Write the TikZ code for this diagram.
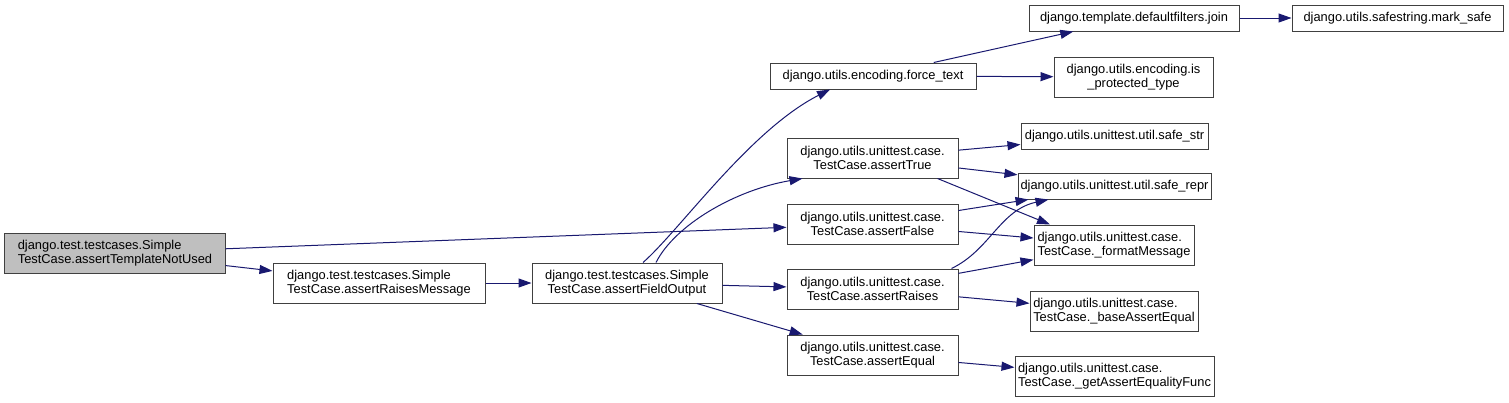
\documentclass[tikz,border=0pt]{standalone}
\usepackage{fontspec}
\setmainfont{Liberation Sans}
\usetikzlibrary{arrows.meta,calc}
\definecolor{edgeblue}{HTML}{191970}
\definecolor{boxline}{HTML}{404040}
\definecolor{graybox}{HTML}{BFBFBF}
\tikzset{
  fnbox/.style={draw=boxline, line width=1bp, fill=white, inner sep=0pt, minimum height=40bp,
    font=\fontsize{12.9}{14}\selectfont, align=center},
  onebox/.style={fnbox, minimum height=26bp},
  leftbox/.style={fnbox, align=left},
  callarrow/.style={draw=edgeblue, line width=1bp, -{Triangle[length=13bp,width=9bp]}}
}
\begin{document}
\begin{tikzpicture}[x=1bp,y=-1bp]
\useasboundingbox[fill=white] (0,0) rectangle (1509,402);
% nodes
\node[leftbox, fill=graybox, minimum width=220bp] (A) at (115,253) {django.test.testcases.Simple\\TestCase.assertTemplateNotUsed};
\node[leftbox, minimum width=212bp] (B) at (379,283) {django.test.testcases.Simple\\TestCase.assertRaisesMessage};
\node[fnbox, minimum width=190bp] (C) at (627,283) {django.test.testcases.Simple\\TestCase.assertFieldOutput};
\node[fnbox, minimum width=171bp] (D) at (872.5,289) {django.utils.unittest.case.\\TestCase.assertRaises};
\node[fnbox, minimum width=171bp] (E) at (872.5,355) {django.utils.unittest.case.\\TestCase.assertEqual};
\node[fnbox, minimum width=171bp] (F) at (872.5,224) {django.utils.unittest.case.\\TestCase.assertFalse};
\node[fnbox, minimum width=171bp] (G) at (872.5,158) {django.utils.unittest.case.\\TestCase.assertTrue};
\node[onebox, minimum width=206bp] (H) at (873,76) {django.utils.encoding.force\_text};
\node[onebox, minimum width=210bp] (I) at (1134,18) {django.template.defaultfilters.join};
\node[fnbox, minimum width=159bp] (J) at (1133.5,77) {django.utils.encoding.is\\\_protected\_type};
\node[onebox, minimum width=211bp] (K) at (1397.5,18) {django.utils.safestring.mark\_safe};
\node[onebox, minimum width=187bp] (L) at (1114.5,136) {django.utils.unittest.util.safe\_str};
\node[onebox, minimum width=193bp] (M) at (1114.5,186) {django.utils.unittest.util.safe\_repr};
\node[leftbox, minimum width=160bp] (N) at (1114,245) {django.utils.unittest.case.\\TestCase.\_formatMessage};
\node[leftbox, minimum width=168bp] (O) at (1114,311) {django.utils.unittest.case.\\TestCase.\_baseAssertEqual};
\node[leftbox, minimum width=199bp] (P) at (1114.5,376) {django.utils.unittest.case.\\TestCase.\_getAssertEqualityFunc};
% edges
\draw[callarrow] (A) -- (B);
\draw[callarrow] (A) -- (F);
\draw[callarrow] (B) -- (C);
\draw[callarrow] (C) -- (D);
\draw[callarrow] (C) -- (E);
\draw[callarrow] ([xshift=16bp]C.north) .. controls (680,230) and (750,130) .. ([xshift=-43bp]H.south);
\draw[callarrow] ([xshift=29bp]C.north) .. controls (675,225) and (735,190) .. ([xshift=-70bp]G.south);
\draw[callarrow] (H) -- (I);
\draw[callarrow] (H) -- (J);
\draw[callarrow] (I) -- (K);
\draw[callarrow] (G) -- (L);
\draw[callarrow] (G) -- (M);
\draw[callarrow] ([xshift=65bp]G.south) -- ([xshift=-64bp]N.north);
\draw[callarrow] (F) -- (M);
\draw[callarrow] (F) -- (N);
\draw[callarrow] ([xshift=79bp]D.north) .. controls (990,250) and (1000,210) .. ([xshift=-66bp]M.south);
\draw[callarrow] (D) -- (N);
\draw[callarrow] (D) -- (O);
\draw[callarrow] (E) -- (P);
\end{tikzpicture}
\end{document}
